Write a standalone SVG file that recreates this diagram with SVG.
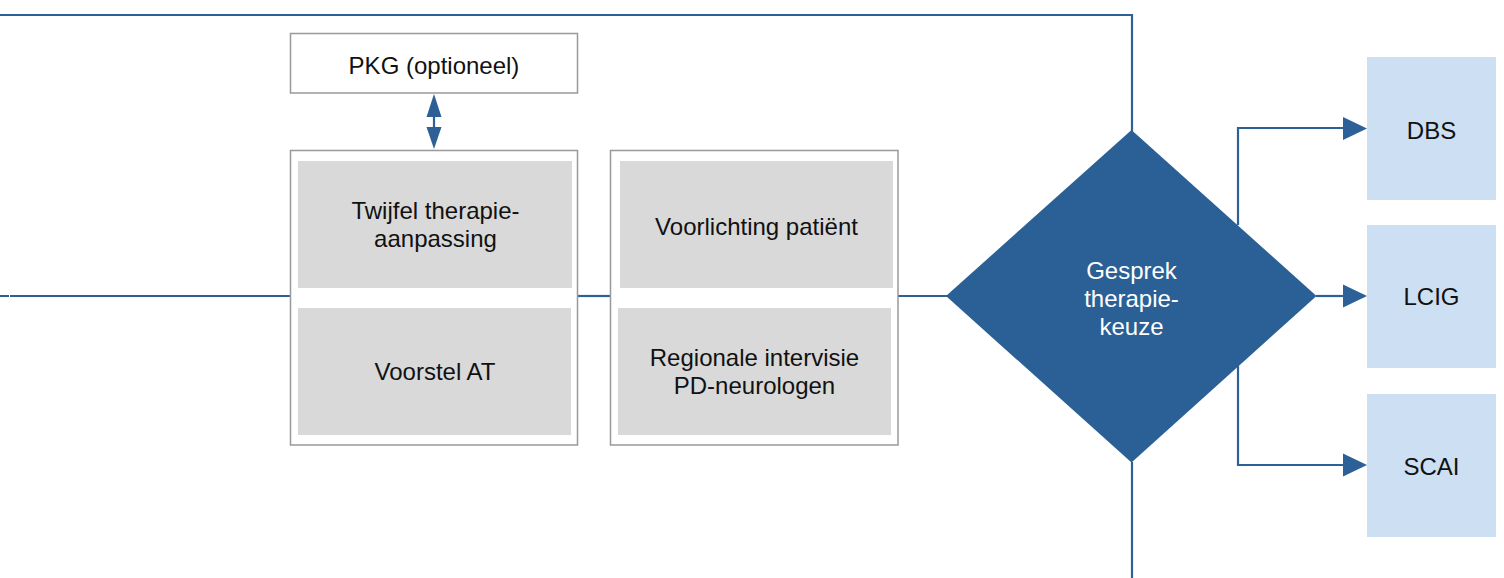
<svg xmlns="http://www.w3.org/2000/svg" width="1504" height="578" viewBox="0 0 1504 578">
<defs>
<style>
.ln{fill:none;stroke:#2c6096;stroke-width:2.2}
.box{fill:#ffffff;stroke:#999999;stroke-width:1.5}
.inner{fill:#d9d9d9}
.opt{fill:#cddff2}
.t{font-family:"Liberation Sans",Arial,sans-serif;font-size:24px;fill:#111111;text-anchor:middle}
.w{fill:#ffffff}
</style>
<marker id="ah" markerWidth="24" markerHeight="24" viewBox="0 0 24 24" refX="24" refY="12" orient="auto" markerUnits="userSpaceOnUse">
<path d="M0,0 L24,12 L0,24 Z" fill="#2c6096"/>
</marker>
<marker id="ah2" markerWidth="16" markerHeight="22" viewBox="0 0 16 22" refX="22" refY="8" orient="auto" markerUnits="userSpaceOnUse">
<path d="M0,0 L22,8 L0,16 Z" fill="#2c6096"/>
</marker>
</defs>
<g id="connectors">
<path class="ln" d="M0,15 H1132 V131"/>
<path class="ln" d="M0,296 H9 M10,296 H290"/>
<path class="ln" d="M578,296 H610"/>
<path class="ln" d="M898,296 H947"/>
<path class="ln" d="M1132,462 V578"/>
<path class="ln" d="M1238,225 V128 H1344"/>
<path d="M1343,117 L1367,128.5 L1343,140 Z" fill="#2c6096"/>
<path class="ln" d="M1316,296 H1344"/>
<path d="M1343,284.5 L1367,296 L1343,307.5 Z" fill="#2c6096"/>
<path class="ln" d="M1238,366 V465 H1344"/>
<path d="M1343,453.5 L1367,465 L1343,476.5 Z" fill="#2c6096"/>
<path class="ln" d="M434,115 V129"/>
<path d="M434,94 L441.5,117 L426.5,117 Z" fill="#2c6096"/>
<path d="M434,149 L441.5,127 L426.5,127 Z" fill="#2c6096"/>
</g>
<g id="pkg">
<rect class="box" x="290.5" y="33.5" width="287" height="59.5"/>
<text class="t" x="434" y="73.5">PKG (optioneel)</text>
</g>
<g id="groep1">
<rect class="box" x="290.5" y="150.5" width="287" height="294.5"/>
<g id="twijfel">
<rect class="inner" x="298" y="161" width="274" height="127"/>
<text class="t" x="435.5" y="219">Twijfel therapie-</text>
<text class="t" x="435.5" y="246.5">aanpassing</text>
</g>
<g id="voorstel">
<rect class="inner" x="298" y="308" width="273" height="127"/>
<text class="t" x="435" y="380">Voorstel AT</text>
</g>
</g>
<g id="groep2">
<rect class="box" x="610.5" y="150.5" width="287.5" height="294.5"/>
<g id="voorlichting">
<rect class="inner" x="620" y="161" width="273" height="127"/>
<text class="t" x="756.5" y="235">Voorlichting patiënt</text>
</g>
<g id="intervisie">
<rect class="inner" x="618" y="308" width="273" height="127"/>
<text class="t" x="754.5" y="366">Regionale intervisie</text>
<text class="t" x="754.5" y="393.5">PD-neurologen</text>
</g>
</g>
<g id="gesprek">
<path d="M1131.5,130 L1316.5,296 L1131.5,462.5 L946,296 Z" fill="#2b6096"/>
<text class="t w" x="1131.5" y="278.5">Gesprek</text>
<text class="t w" x="1131.5" y="306.5">therapie-</text>
<text class="t w" x="1131.5" y="334.5">keuze</text>
</g>
<g id="dbs">
<rect class="opt" x="1367" y="57" width="129" height="143"/>
<text class="t" x="1431.5" y="138.5">DBS</text>
</g>
<g id="lcig">
<rect class="opt" x="1367" y="225" width="129" height="143"/>
<text class="t" x="1431.5" y="305">LCIG</text>
</g>
<g id="scai">
<rect class="opt" x="1367" y="394" width="129" height="143"/>
<text class="t" x="1431.5" y="475">SCAI</text>
</g>
</svg>
